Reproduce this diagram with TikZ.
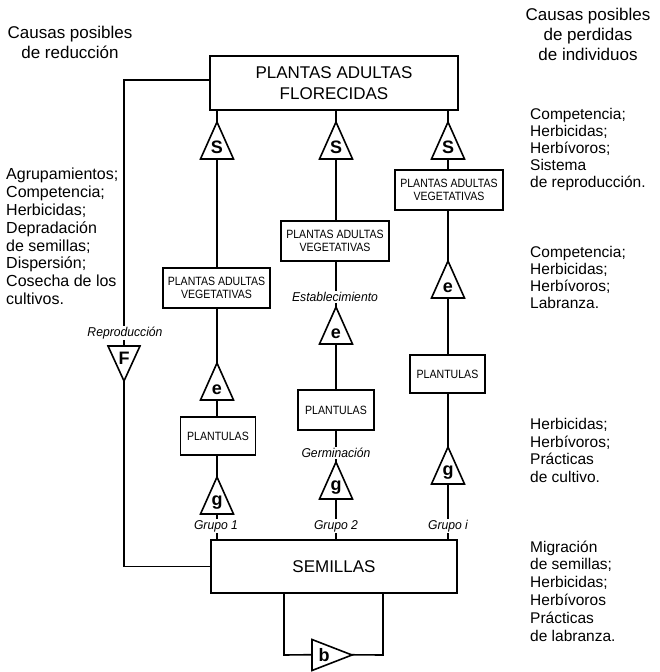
\documentclass[tikz,border=0pt]{standalone}
\usepackage{fontspec}
\setmainfont{Liberation Sans}
\newfontfamily\condfont{Liberation Sans}[FakeStretch=0.88]
\newfontfamily\labfont{Liberation Sans}[FakeStretch=0.95]
\usetikzlibrary{backgrounds}
% triangles: [baseline offset] name, x, apex y, letter
\newcommand\triup[5][31]{%
  \draw[tri] (#3,#4) -- (#3-16.5,#4+37) -- (#3+16.5,#4+37) -- cycle;
  \node[let] (#2) at (#3,#4+#1) {#5};}
\begin{document}
\begin{tikzpicture}[x=1pt,y=-1pt,
  ln/.style={line width=1.6pt},
  bigbox/.style={draw,line width=1.6pt,fill=white,align=center,inner sep=0pt,
    font=\fontsize{17}{21}\selectfont},
  smallbox/.style={draw,line width=1.6pt,fill=white,align=center,inner sep=0pt,
    font=\condfont\fontsize{12}{13.5}\selectfont},
  tri/.style={draw,line width=1.6pt,fill=white,line join=miter},
  let/.style={font=\bfseries\fontsize{18}{18}\selectfont,inner sep=0pt,anchor=base},
  lab/.style={font=\labfont\itshape\fontsize{12.8}{13}\selectfont,fill=white,inner sep=1pt},
  txt/.style={align=left,inner sep=0pt,anchor=west,font=\fontsize{16}{17.8}\selectfont},
  txtr/.style={txt,font=\fontsize{15.5}{17.8}\selectfont},
  txtb/.style={txt,font=\fontsize{15.5}{17}\selectfont},
  head/.style={align=center,inner sep=0pt,font=\fontsize{17}{20}\selectfont}
]
\useasboundingbox (0,0) rectangle (659,672);

% main boxes
\node[bigbox,minimum width=248pt,minimum height=54pt] (top) at (334,83) {PLANTAS ADULTAS\\FLORECIDAS};
\node[bigbox,minimum width=246pt,minimum height=53pt] (sem) at (334,566.5) {SEMILLAS};

% column 1
\triup{s1}{217}{122}{S}
\node[smallbox,minimum width=107pt,minimum height=40pt] (b1) at (216.5,288) {PLANTAS ADULTAS\\VEGETATIVAS};
\triup{e1}{217}{363}{e}
\node[smallbox,minimum width=75pt,minimum height=38pt] (p1) at (218,436) {PLANTULAS};
\triup[28]{g1}{217}{477}{g}
\node[lab] (gr1) at (216,526) {Grupo 1};

% column 2
\triup{s2}{336}{122}{S}
\node[smallbox,minimum width=108pt,minimum height=40pt] (b2) at (335,241) {PLANTAS ADULTAS\\VEGETATIVAS};
\node[lab] (estab) at (335,297) {Establecimiento};
\triup{e2}{336}{307}{e}
\node[smallbox,minimum width=76pt,minimum height=40pt] (p2) at (336,410) {PLANTULAS};
\node[lab] (germ) at (336,453) {Germinación};
\triup[28]{g2}{336}{462}{g}
\node[lab] (gr2) at (336,526) {Grupo 2};

% column 3
\triup{s3}{448}{122}{S}
\node[smallbox,minimum width=108pt,minimum height=40pt] (b3) at (449,190) {PLANTAS ADULTAS\\VEGETATIVAS};
\triup{e3}{448}{261}{e}
\node[smallbox,minimum width=75pt,minimum height=38pt] (p3) at (447.5,374) {PLANTULAS};
\triup[28]{g3}{448}{447}{g}
\node[lab] (gr3) at (448,526) {Grupo i};

% reproduction loop
\node[lab] (repr) at (125,333) {Reproducción};
\draw[tri] (108,346) -- (140,346) -- (124,381) -- cycle;
\node[let] (F) at (124,364) {F};

% seed bank loop
\draw[tri] (312,639.5) -- (352,655) -- (312,670.5) -- cycle;
\node[let] (b) at (324,661) {b};
\coordinate (bl) at (284,655);
\coordinate (br) at (383,655);

\begin{scope}[on background layer]
  \draw[ln] (top.south -| s1) -- (sem.north -| s1);
  \draw[ln] (top.south -| s2) -- (sem.north -| s2);
  \draw[ln] (top.south -| s3) -- (sem.north -| s3);
  \draw[ln] ([yshift=3pt]top.west) -| (F) |- (sem.west);
  \draw[ln] (sem.south -| bl) -- (bl) -- (b) -- (br) -- (sem.south -| br);
\end{scope}

% texts
\node[head] (hl) at (70,42) {Causas posibles\\de reducción};
\node[head] (hr) at (588,34) {Causas posibles\\de perdidas\\de individuos};
\node[txt] (l1) at (6,236.5) {Agrupamientos;\\Competencia;\\Herbicidas;\\Depradación\\de semillas;\\Dispersión;\\Cosecha de los\\cultivos.};
\node[txtb] (r1) at (530,149) {Competencia;\\Herbicidas;\\Herbívoros;\\Sistema\\de reproducción.};
\node[txtb] (r2) at (530,277) {Competencia;\\Herbicidas;\\Herbívoros;\\Labranza.};
\node[txtr] (r3) at (530,450.5) {Herbicidas;\\Herbívoros;\\Prácticas\\de cultivo.};
\node[txtr] (r4) at (530,591) {Migración\\de semillas;\\Herbicidas;\\Herbívoros\\Prácticas\\de labranza.};
\end{tikzpicture}
\end{document}
